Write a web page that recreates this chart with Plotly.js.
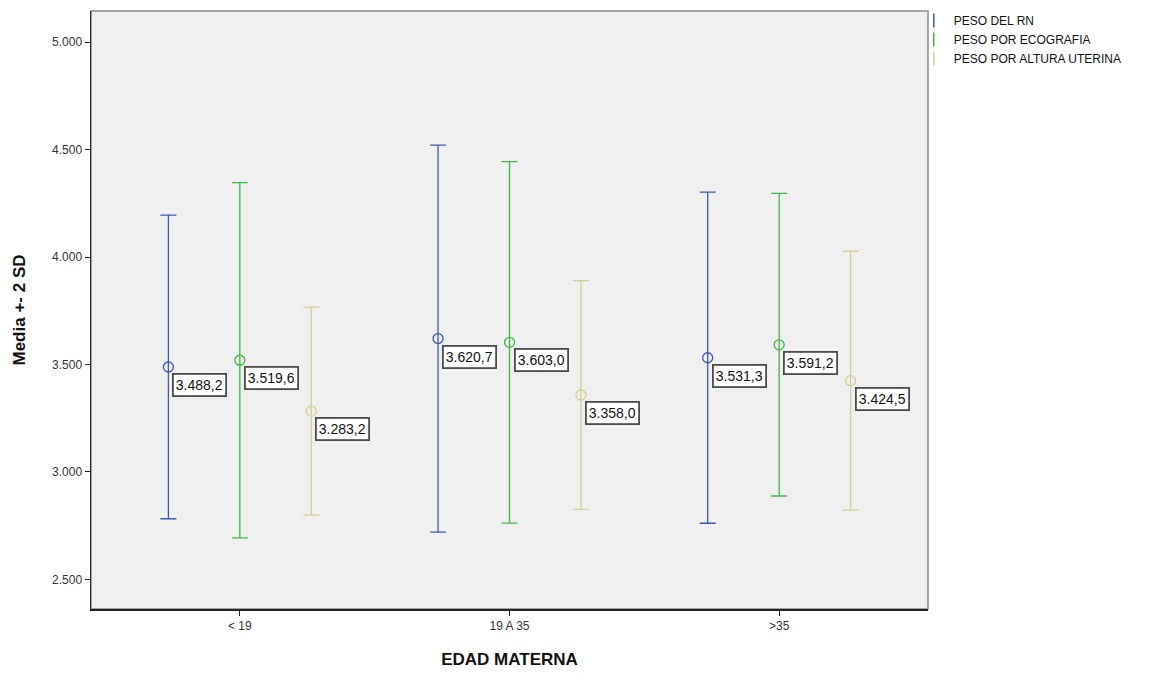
<!DOCTYPE html>
<html>
<head>
<meta charset="utf-8">
<script src="https://cdn.plot.ly/plotly-3.0.1.min.js"></script>
<style>html,body{margin:0;padding:0;background:#fff;}#chart{width:1157px;height:673px;}</style>
</head>
<body>
<div id="chart"></div>
<script>
// Categories (EDAD MATERNA)
const categories = ['< 19', '19 A 35', '>35'];
const seriesNames = ['PESO DEL RN', 'PESO POR ECOGRAFIA', 'PESO POR ALTURA UTERINA'];
const seriesColors = ['#3E58AC', '#3EB549', '#D3CE97'];

// Means
const meanRN   = [3488.2, 3620.7, 3531.3];
const meanECO  = [3519.6, 3603.0, 3591.2];
const meanALT  = [3283.2, 3358.0, 3424.5];
// Upper ends (mean + 2 SD)
const upperRN  = [4195, 4521, 4302];
const upperECO = [4346, 4444, 4296];
const upperALT = [3767, 3890, 4027];
// Lower ends (mean - 2 SD)
const lowerRN  = [2782, 2720, 2761];
const lowerECO = [2693, 2762, 2888];
const lowerALT = [2799, 2826, 2822];

const yTickVals = [2500, 3000, 3500, 4000, 4500, 5000];
const yTickText = ['2.500', '3.000', '3.500', '4.000', '4.500', '5.000'];

const means  = [meanRN, meanECO, meanALT];
const uppers = [upperRN, upperECO, upperALT];
const lowers = [lowerRN, lowerECO, lowerALT];
const offsets = [-0.265, 0, 0.265];

function fmt(v) {
  const s = v.toFixed(1).split('.');
  const intPart = s[0].replace(/\B(?=(\d{3})+(?!\d))/g, '.');
  return intPart + ',' + s[1];
}

const traces = [];
const annotations = [];
for (let s = 0; s < 3; s++) {
  const xs = categories.map((c, i) => i + offsets[s]);
  traces.push({
    type: 'scatter', mode: 'markers', x: xs, y: means[s],
    name: seriesNames[s], showlegend: false,
    marker: { symbol: 'circle-open', size: 10, color: seriesColors[s], line: { width: 1.3, color: seriesColors[s] } },
    error_y: {
      type: 'data', symmetric: false,
      array: means[s].map((m, i) => uppers[s][i] - m),
      arrayminus: means[s].map((m, i) => m - lowers[s][i]),
      color: seriesColors[s], thickness: 1.3, width: 8
    },
    hoverinfo: 'skip'
  });
  // legend-only entry
  traces.push({
    type: 'scatter', mode: 'markers', x: [null], y: [null],
    name: seriesNames[s], showlegend: true,
    marker: { symbol: 'line-ns-open', size: 10, color: seriesColors[s], line: { width: 1.5, color: seriesColors[s] } }
  });
  means[s].forEach((m, i) => {
    annotations.push({
      x: xs[i], y: m, xref: 'x', yref: 'y',
      text: fmt(m), showarrow: false,
      xanchor: 'left', yanchor: 'top', xshift: 4, yshift: -6,
      font: { family: 'Arial, Liberation Sans, sans-serif', size: 14, color: '#111' },
      bgcolor: '#ffffff', bordercolor: '#4a4a4a', borderwidth: 1.8, borderpad: 2
    });
  });
}

const layout = {
  width: 1157, height: 673,
  margin: { l: 91, r: 229, t: 10.5, b: 64, pad: 0, autoexpand: false },
  paper_bgcolor: '#ffffff', plot_bgcolor: '#F0F0F0',
  font: { family: 'Arial, Liberation Sans, sans-serif', size: 12, color: '#333' },
  showlegend: true,
  legend: {
    x: 0.983, xanchor: 'left', y: 1.0084, yanchor: 'top',
    bgcolor: 'rgba(0,0,0,0)', borderwidth: 0,
    font: { size: 12, color: '#111' }, itemwidth: 30, tracegroupgap: 0
  },
  xaxis: {
    range: [-0.552, 2.552], tickvals: [0, 1, 2], ticktext: categories,
    showgrid: false, zeroline: false, showline: true, linecolor: '#222', linewidth: 1.5,
    ticks: 'outside', ticklen: 5, tickcolor: '#222',
    tickfont: { size: 12, color: '#333' },
    title: { text: 'EDAD MATERNA', font: { size: 17, color: '#111', weight: 'bold' }, standoff: 21 },
    fixedrange: true
  },
  yaxis: {
    range: [2362, 5145], tickvals: yTickVals, ticktext: yTickText,
    showgrid: false, zeroline: false, showline: true, linecolor: '#222', linewidth: 1.5,
    ticks: 'outside', ticklen: 5, tickcolor: '#222',
    tickfont: { size: 12, color: '#333' },
    title: { text: 'Media +- 2 SD', font: { size: 17, color: '#111', weight: 'bold' }, standoff: 22 },
    fixedrange: true
  },
  shapes: [{
    type: 'rect', xref: 'paper', yref: 'paper', x0: 0, x1: 1, y0: 0, y1: 1,
    line: { color: '#8a8a8a', width: 1.5 }, layer: 'below'
  }],
  annotations: annotations
};

Plotly.newPlot('chart', traces, layout, { displayModeBar: false, staticPlot: true });
</script>
</body>
</html>
